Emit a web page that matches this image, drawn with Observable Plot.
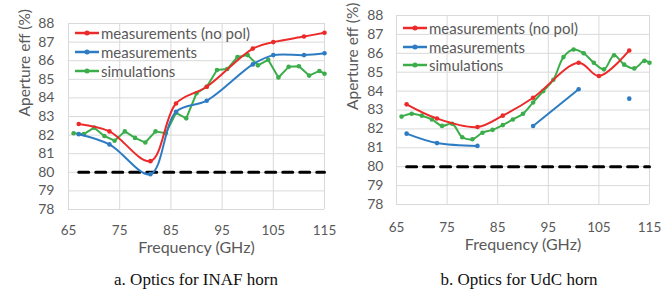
<!DOCTYPE html>
<html><head><meta charset="utf-8">
<script src="https://cdn.jsdelivr.net/npm/d3@7"></script>
<script src="https://cdn.jsdelivr.net/npm/@observablehq/plot@0.6"></script>
<style>
body{margin:0;background:#fff;}
#wrap{position:relative;width:671px;height:292px;overflow:hidden;font-family:Lato,sans-serif;}
.pl{position:absolute;top:0;}
.legend{position:absolute;font-family:Lato,sans-serif;font-size:15px;color:#595959;}
.row{position:absolute;white-space:nowrap;display:flex;align-items:center;height:18px;}
.row svg{display:block;margin-right:2px;}
.cap{position:absolute;font-family:"Liberation Serif",serif;font-size:17px;color:#111;white-space:nowrap;transform:translateX(-50%);}
</style></head><body><div id="wrap"></div>
<script>
// ---- data ----
const seriesNames = ["measurements (no pol)", "measurements", "simulations"];
const seriesColors = ["#ec2a2a", "#2d7cc3", "#3cad4b"];
const xTicks = [65, 75, 85, 95, 105, 115];
const yTicks = [78, 79, 80, 81, 82, 83, 84, 85, 86, 87, 88];
const threshFreq = [67, 115];
const threshValue = 80;

// a. INAF horn
const aMeasFreq = [67, 73, 81, 86, 92, 101, 105, 111, 115];
const aNoPol = [82.6, 82.2, 80.6, 83.7, 84.6, 86.65, 87.0, 87.3, 87.5];
const aMeas = [82.05, 81.5, 79.9, 83.25, 83.85, 85.8, 86.3, 86.3, 86.4];
const simFreq = [66, 68, 70, 72, 74, 76, 78, 80, 82, 84, 86, 88, 90, 92, 94, 96, 98, 100, 102, 104, 106, 108, 110, 112, 114, 115];
const aSim = [82.1, 82.05, 82.4, 81.95, 81.7, 82.2, 81.85, 81.6, 82.2, 82.1, 83.2, 82.9, 84.25, 84.6, 85.5, 85.55, 86.2, 86.3, 85.75, 86.05, 85.1, 85.67, 85.7, 85.2, 85.45, 85.3];

// b. UdC horn
const bMeasFreq = [67, 73, 81, 86, 92, 101, 105, 111];
const bNoPol = [83.3, 82.55, 82.1, 82.7, 83.65, 85.5, 84.8, 86.15];
const bMeas = [81.75, 81.25, 81.1, null, 82.15, 84.1, null, 83.6];
const bSim = [82.65, 82.8, 82.7, 82.5, 82.16, 82.27, 81.56, 81.45, 81.8, 81.95, 82.2, 82.5, 82.8, 83.4, 84.0, 84.6, 85.8, 86.2, 86.0, 85.5, 85.15, 85.9, 85.4, 85.2, 85.6, 85.5];

const captions = ["a. Optics for INAF horn", "b. Optics for UdC horn"];

// ---- build ----
function rows(fx, ys) { return fx.map((f, i) => ({f, v: ys[i] == null ? NaN : ys[i]})); }

function chart(o) {
  const noPol = rows(o.measFreq, o.noPol), meas = rows(o.measFreq, o.meas), sim = rows(simFreq, o.sim);
  const thr = threshFreq.map(f => ({f, v: threshValue}));
  const dotOk = d => Number.isFinite(d.v);
  return Plot.plot({
    width: o.width, height: 260,
    marginLeft: o.ml, marginRight: o.mr, marginTop: o.mt, marginBottom: o.mb,
    style: {fontFamily: "Lato, sans-serif", fontSize: "13px", color: "#595959", background: "transparent", overflow: "visible"},
    x: {domain: [65, 115]},
    y: {domain: [78, 88]},
    marks: [
      Plot.gridX(xTicks, {stroke: "#d9d9d9", strokeOpacity: 1}),
      Plot.gridY(yTicks, {stroke: "#d9d9d9", strokeOpacity: 1}),
      Plot.axisX(xTicks, {tickSize: 0, tickPadding: o.xpad, label: null, fontSize: 13.5}),
      Plot.axisY(yTicks, {tickSize: 0, tickPadding: o.ypad, label: null, fontSize: 14}),
      Plot.text(["Frequency (GHz)"], {frameAnchor: "bottom", dy: o.xlab, fontSize: 16, fill: "#595959"}),
      Plot.text(["Aperture eff (%)"], {frameAnchor: "left", dx: -43, rotate: -90, fontSize: 15.5, fill: "#595959"}),
      Plot.line(thr, {x: "f", y: "v", stroke: "#000", strokeWidth: 3, strokeDasharray: "10,7"}),
      Plot.line(sim, {x: "f", y: "v", stroke: seriesColors[2], strokeWidth: 2, curve: o.simCurve}),
      Plot.dot(sim, {x: "f", y: "v", fill: seriesColors[2], r: 2.3}),
      Plot.line(meas, {x: "f", y: "v", stroke: seriesColors[1], strokeWidth: 2, curve: "catmull-rom"}),
      Plot.dot(meas.filter(dotOk), {x: "f", y: "v", fill: seriesColors[1], r: 2.3}),
      Plot.line(noPol, {x: "f", y: "v", stroke: seriesColors[0], strokeWidth: 2, curve: "catmull-rom"}),
      Plot.dot(noPol, {x: "f", y: "v", fill: seriesColors[0], r: 2.3})
    ]
  });
}

const wrap = document.getElementById("wrap");
function place(el, left) { el.classList.add("pl"); el.style.left = left + "px"; wrap.appendChild(el); }

place(chart({width: 335, ml: 68, mr: 11, mt: 23, mb: 51, measFreq: aMeasFreq, noPol: aNoPol, meas: aMeas, sim: aSim, xpad: 16, ypad: 14, xlab: 43, simCurve: "linear"}), 0);
place(chart({width: 336, ml: 61, mr: 22, mt: 15, mb: 56, measFreq: bMeasFreq, noPol: bNoPol, meas: bMeas, sim: bSim, xpad: 18, ypad: 13, xlab: 45, simCurve: "catmull-rom"}), 335);

function legend(left, top, gap) {
  const lg = document.createElement("div");
  lg.className = "legend";
  lg.style.left = left + "px"; lg.style.top = top + "px";
  seriesNames.forEach((n, i) => {
    const r = document.createElement("div");
    r.className = "row";
    r.style.top = (i * gap) + "px";
    r.innerHTML = `<svg width="24" height="8"><line x1="0" x2="24" y1="4" y2="4" stroke="${seriesColors[i]}" stroke-width="2.5"/><circle cx="12" cy="4" r="2.5" fill="${seriesColors[i]}"/></svg><span>${n}</span>`;
    lg.appendChild(r);
  });
  wrap.appendChild(lg);
}
legend(75, 24, 19);
legend(403, 19, 18.5);

[[196, captions[0]], [519, captions[1]]].forEach(([x, t]) => {
  const c = document.createElement("div");
  c.className = "cap"; c.style.left = x + "px"; c.style.top = "270px"; c.textContent = t;
  wrap.appendChild(c);
});
</script></body></html>
